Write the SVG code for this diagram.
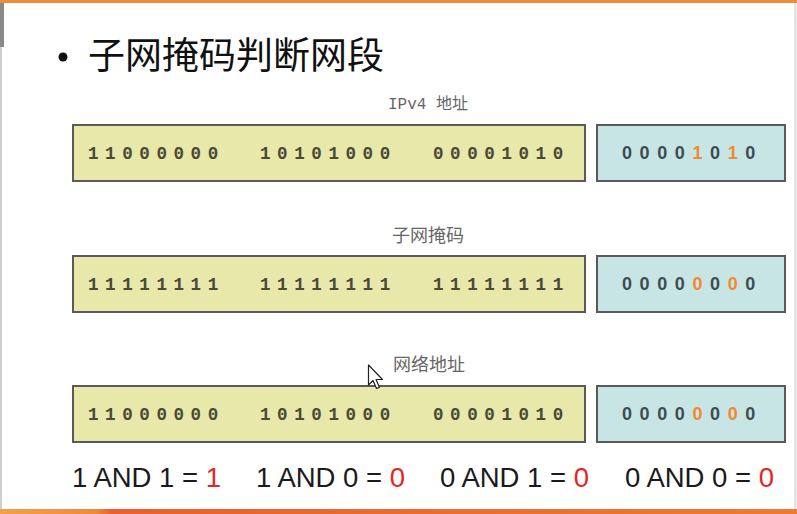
<svg xmlns="http://www.w3.org/2000/svg" width="797" height="514" viewBox="0 0 797 514">
<defs>
<linearGradient id="botbar" x1="0" y1="0" x2="1" y2="0">
<stop offset="0" stop-color="#f3a048"/>
<stop offset="0.12" stop-color="#f08a3c"/>
<stop offset="0.14" stop-color="#e8602e"/>
<stop offset="1" stop-color="#ec7a34"/>
</linearGradient>
<style>
.title{font-family:"Noto Sans CJK SC","Noto Sans",sans-serif;font-size:37px;fill:#111;}
.lbl{font-family:"Liberation Mono","Noto Sans CJK SC",monospace;font-size:16px;fill:#666;}
.lblc{font-family:"Noto Sans CJK SC",sans-serif;font-size:18px;fill:#666;}
.ybox{fill:#e8e8aa;stroke:#5a5a5a;stroke-width:2;}
.bbox{fill:#c8e5e5;stroke:#5a5a5a;stroke-width:2;}
.yd{font-family:"Liberation Mono",monospace;font-weight:bold;font-size:17.5px;fill:#4a4a36;letter-spacing:6.6px;}
.bd{font-family:"Liberation Sans",sans-serif;font-weight:bold;font-size:18px;fill:#3e4c52;letter-spacing:7.6px;}
.or{fill:#f08a30;}
.eq{font-family:"Liberation Sans",sans-serif;font-size:27.5px;fill:#1a1a1a;}
.red{fill:#e5251f;}
</style>
</defs>
<rect x="0" y="0" width="797" height="514" fill="#ffffff"/>
<rect x="0" y="0" width="797" height="3" fill="#f08a3c"/>
<rect x="0" y="3" width="4" height="44" fill="#8a8a8a"/>
<rect x="0" y="47" width="2" height="463" fill="#cfcfcf"/>
<rect x="794" y="3" width="3" height="507" fill="#e4e4e4"/>
<rect x="0" y="509" width="797" height="5" fill="url(#botbar)"/>

<g id="title">
<circle cx="63" cy="57" r="4.5" fill="#111"/>
<text class="title" x="88" y="69">子网掩码判断网段</text>
</g>

<g id="row-ip">
<text class="lbl" x="428" y="109" text-anchor="middle">IPv4 地址</text>
<rect class="ybox" x="73" y="125" width="512" height="56"/>
<text class="yd" x="88" y="159">11000000</text>
<text class="yd" x="260" y="159">10101000</text>
<text class="yd" x="433" y="159">00001010</text>
<rect class="bbox" x="597" y="125" width="188" height="56"/>
<text class="bd" x="622" y="159">0000<tspan class="or">1</tspan>0<tspan class="or">1</tspan>0</text>
</g>

<g id="row-mask">
<text class="lblc" x="428" y="242" text-anchor="middle">子网掩码</text>
<rect class="ybox" x="73" y="256" width="512" height="56"/>
<text class="yd" x="88" y="290">11111111</text>
<text class="yd" x="260" y="290">11111111</text>
<text class="yd" x="433" y="290">11111111</text>
<rect class="bbox" x="597" y="256" width="188" height="56"/>
<text class="bd" x="622" y="290">0000<tspan class="or">0</tspan>0<tspan class="or">0</tspan>0</text>
</g>

<g id="row-net">
<text class="lblc" x="429" y="371" text-anchor="middle">网络地址</text>
<rect class="ybox" x="73" y="386" width="512" height="56"/>
<text class="yd" x="88" y="420">11000000</text>
<text class="yd" x="260" y="420">10101000</text>
<text class="yd" x="433" y="420">00001010</text>
<rect class="bbox" x="597" y="386" width="188" height="56"/>
<text class="bd" x="622" y="420">0000<tspan class="or">0</tspan>0<tspan class="or">0</tspan>0</text>
</g>

<g id="connectors"></g>

<g id="cursor">
<path d="M368.5,365 L368.5,385 L373,380.5 L376.5,388.5 L379.5,387.2 L376,379.5 L382.5,379.5 Z" fill="#ffffff" stroke="#222" stroke-width="1.2" stroke-linejoin="round"/>
</g>

<g id="and-rules">
<text class="eq" x="72" y="487">1 AND 1 = <tspan class="red">1</tspan></text>
<text class="eq" x="256" y="487">1 AND 0 = <tspan class="red">0</tspan></text>
<text class="eq" x="440" y="487">0 AND 1 = <tspan class="red">0</tspan></text>
<text class="eq" x="625" y="487">0 AND 0 = <tspan class="red">0</tspan></text>
</g>
</svg>
